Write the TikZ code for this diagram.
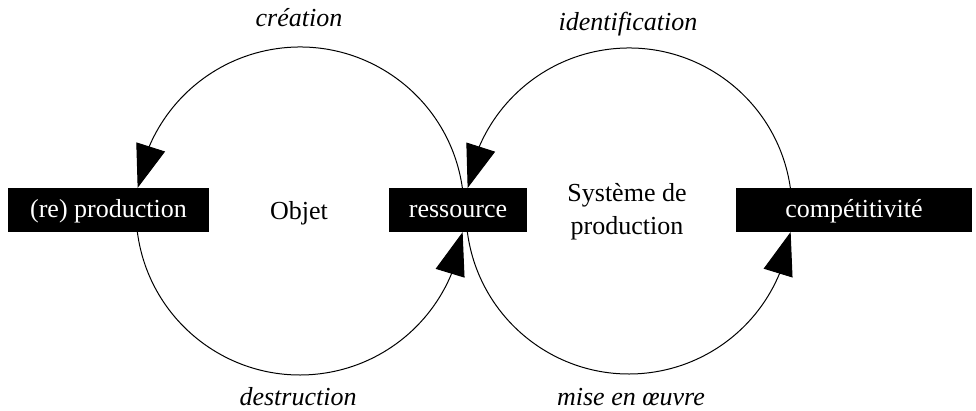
\documentclass[tikz,border=0pt]{standalone}
\usepackage{fontspec}
\setmainfont{Liberation Serif}
\usetikzlibrary{arrows.meta,bending}
\begin{document}
\begin{tikzpicture}[x=1pt,y=1pt,
  every node/.style={font=\fontsize{26}{33}\selectfont},
  blackbox/.style={fill=black,text=white,inner sep=0pt,minimum height=44pt,text height=19pt,text depth=4pt},
  lab/.style={anchor=base,font=\fontsize{26}{33}\selectfont\itshape},
  cyc/.style={line width=1pt,-{Triangle[length=43pt,width=30pt,flex=1.3]}}]
\useasboundingbox (0,0) rectangle (976,411);
\coordinate (C1) at (300,200);
\coordinate (C2) at (629,200);
% circles (arcs with arrow tips)
\draw[cyc] ([shift={(8.1:164)}]C1) arc[start angle=8.1,end angle=171.9,radius=164];
\draw[cyc] ([shift={(187.4:164)}]C1) arc[start angle=187.4,end angle=352.6,radius=164];
\draw[cyc] ([shift={(8.1:163)}]C2) arc[start angle=8.1,end angle=171.9,radius=163];
\draw[cyc] ([shift={(187.4:163)}]C2) arc[start angle=187.4,end angle=352.6,radius=163];
% boxes
\node[blackbox,minimum width=201pt] (prod) at (108.5,201) {(re) production};
\node[blackbox,minimum width=138pt] (res) at (458,201) {ressource};
\node[blackbox,minimum width=236pt] (comp) at (854,201) {comp\'etitivit\'e};
% inner labels
\node[anchor=base] (obj) at (299,191) {Objet};
\node[anchor=base] (sys1) at (627,209) {Syst\`eme de};
\node[anchor=base] (sys2) at (627,176) {production};
% outer labels
\node[lab] (crea) at (299,384) {cr\'eation};
\node[lab] (ident) at (628,380) {identification};
\node[lab] (dest) at (298,5) {destruction};
\node[lab] (mise) at (631,5) {mise en \oe uvre};
\end{tikzpicture}
\end{document}
